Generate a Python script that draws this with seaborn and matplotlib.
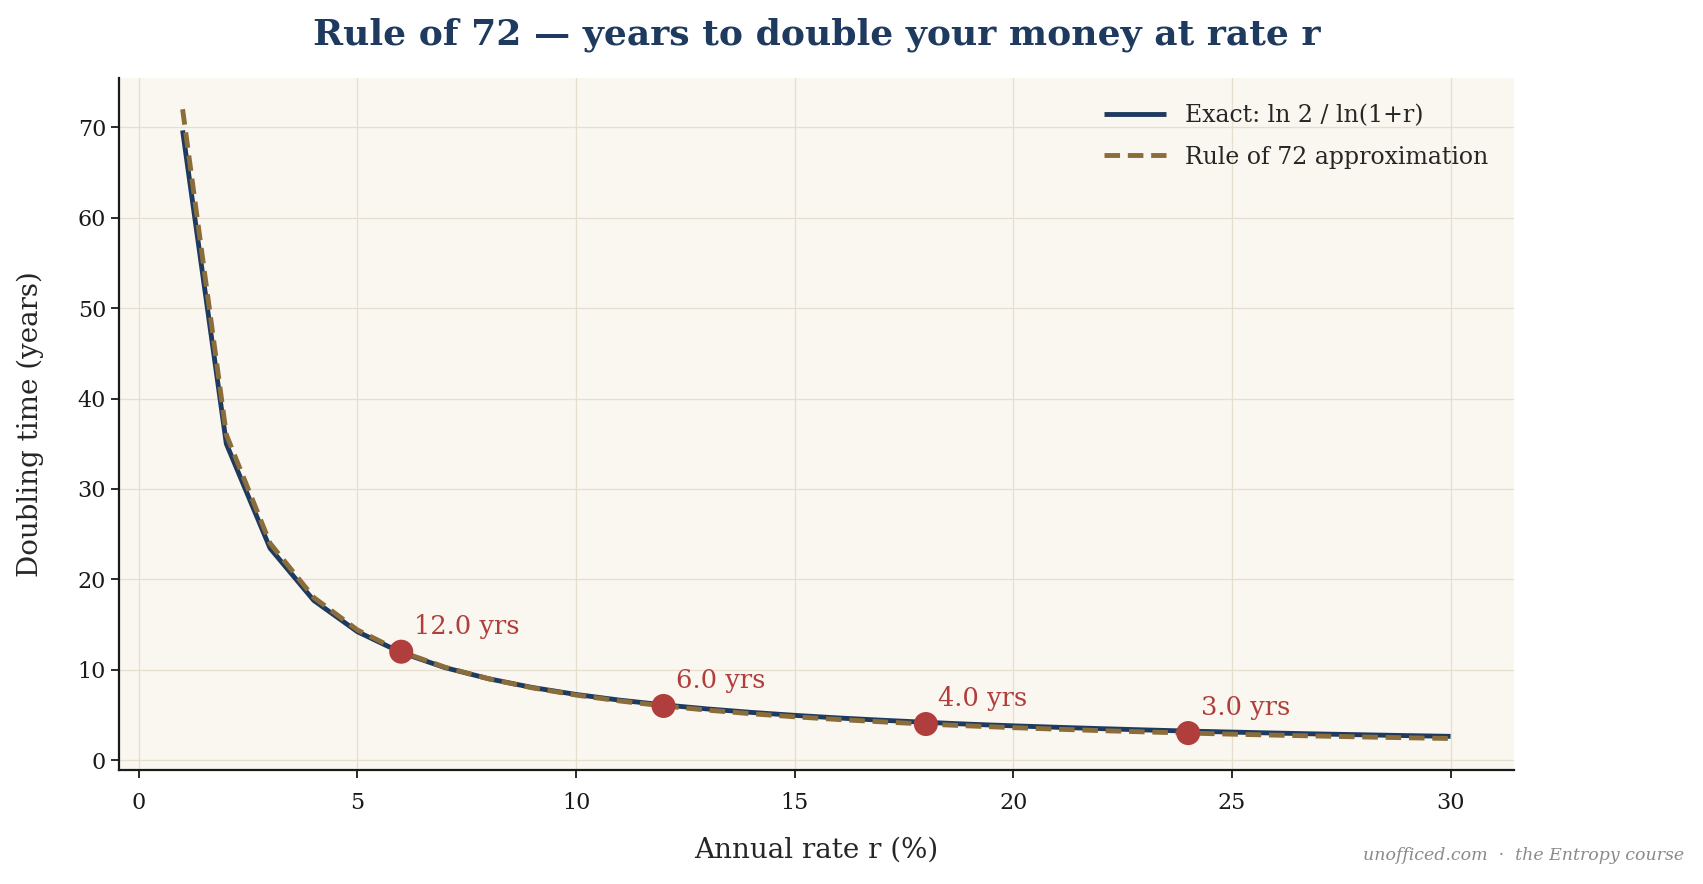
import pandas as pd
import seaborn as sns
import matplotlib.pyplot as plt

# Annual rate in percent
rates = list(range(1, 31))

# Exact doubling time ln 2 / ln(1+r)
exact_years = [69.66, 35.00, 23.45, 17.67, 14.21, 11.90, 10.24, 9.01, 8.04, 7.27,
               6.64, 6.12, 5.67, 5.29, 4.96, 4.67, 4.42, 4.19, 3.98, 3.80,
               3.64, 3.49, 3.35, 3.22, 3.11, 3.00, 2.90, 2.81, 2.72, 2.64]

# Rule of 72 approximation, 72 / r
rule72_years = [72.00, 36.00, 24.00, 18.00, 14.40, 12.00, 10.29, 9.00, 8.00, 7.20,
                6.55, 6.00, 5.54, 5.14, 4.80, 4.50, 4.24, 4.00, 3.79, 3.60,
                3.43, 3.27, 3.13, 3.00, 2.88, 2.77, 2.67, 2.57, 2.48, 2.40]

# Highlighted points
mark_rates = [6, 12, 18, 24]
mark_years = [12.0, 6.0, 4.0, 3.0]

NAVY = "#1f3a5f"
GOLD = "#8a6d3b"
RED = "#b03e3c"
BG = "#faf7f0"

curves = pd.DataFrame({
    "rate": rates * 2,
    "years": exact_years + rule72_years,
    "series": ["Exact: ln 2 / ln(1+r)"] * len(rates) + ["Rule of 72 approximation"] * len(rates),
})
marks = pd.DataFrame({"rate": mark_rates, "years": mark_years})

sns.set_theme(style="ticks")
plt.rcParams["font.family"] = ["DejaVu Serif"]

fig, ax = plt.subplots(figsize=(17.03, 8.84), dpi=100)
fig.subplots_adjust(left=0.07, right=0.889, top=0.912, bottom=0.129)
ax.set_facecolor(BG)

sns.lineplot(
    data=curves, x="rate", y="years", hue="series", style="series",
    palette=[NAVY, GOLD], dashes=[(1, 0), (3.2, 1.6)], linewidth=3,
    ax=ax,
)
for ln, lw in zip(ax.get_lines()[:2], [3.5, 3.5]):
    ln.set_linewidth(lw)

sns.scatterplot(
    data=marks, x="rate", y="years", color=RED, s=300,
    edgecolor="none", zorder=5, ax=ax, legend=False,
)
for r, y in zip(mark_rates, mark_years):
    ax.annotate(f"{y:.1f} yrs", (r, y), xytext=(9, 13), textcoords="offset points",
                color=RED, fontsize=18.5)

ax.grid(True, color="#e6dfcf", linewidth=0.9)
ax.set_axisbelow(True)
sns.despine(ax=ax)
for sp in ["left", "bottom"]:
    ax.spines[sp].set_linewidth(1.6)
    ax.spines[sp].set_color("#1a1a1a")
ax.tick_params(labelsize=16, length=6, width=1.3, colors="#1a1a1a")
ax.tick_params(axis="x", pad=10)

ax.set_xlabel("Annual rate r (%)", fontsize=20, labelpad=16)
ax.set_ylabel("Doubling time (years)", fontsize=20, labelpad=24)
ax.set_title("Rule of 72 — years to double your money at rate r",
             fontsize=26, fontweight="bold", color=NAVY, pad=24)

leg = ax.legend(frameon=False, fontsize=17, loc="upper right", handlelength=2.6,
                borderaxespad=0.7, labelspacing=0.8)
for h in leg.get_lines():
    h.set_linewidth(3.5)

fig.text(0.989, 0.027, "unofficed.com  ·  the Entropy course", ha="right",
         fontsize=12.5, style="italic", color="#8a8a8a")

fig.savefig("out.png", dpi=100, facecolor="white")
